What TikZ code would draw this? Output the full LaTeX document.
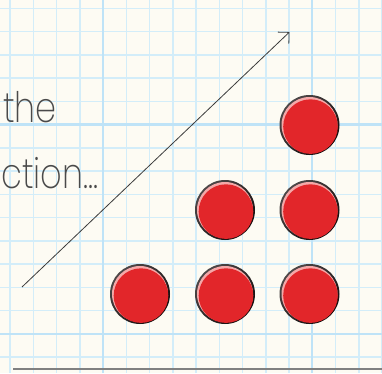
\documentclass[tikz,border=0pt]{standalone}
\usepackage{fontspec}
\newfontfamily\hand{Poppins ExtraLight}
\usetikzlibrary{arrows.meta}
\definecolor{paper}{HTML}{FDFBF3}
\definecolor{gridc}{HTML}{D3EDF9}
\definecolor{gridt}{HTML}{BFE3F7}
\definecolor{ink}{HTML}{4A4A4A}
\definecolor{ballred}{HTML}{E2262A}
\definecolor{ballhi}{HTML}{F4A8A8}
\definecolor{rimlight}{HTML}{4E4848}
\definecolor{rimdark}{HTML}{120A0A}
\definecolor{rule}{HTML}{808080}
\tikzset{
  gridline/.style={gridc, line width=1.5pt},
  gridthick/.style={gridt, line width=2.2pt},
  handtext/.style={font=\hand\fontsize{42}{42}\selectfont, text=ink, inner sep=0pt, xscale=0.8, transform shape},
  ball/.style={circle, minimum size=60pt, inner sep=0pt, top color=rimlight, bottom color=rimdark, shading angle=45,
    path picture={
      \fill[ballhi] (path picture bounding box.center) circle (28pt);
      \fill[ballred] ([shift={(1pt,-1.6pt)}]path picture bounding box.center) circle (27.3pt);
    }},
  trend/.style={draw=ink!80!black, line width=0.8pt, -{Straight Barb[length=8pt,width=16pt]}},
  baseline rule/.style={draw=rule, line width=1.8pt}
}
\begin{document}
\begin{tikzpicture}[x=1pt,y=1pt]
\useasboundingbox (0,0) rectangle (382,373);
\fill[paper] (0,0) rectangle (382,373);
\begin{scope}
  \clip (0,0) rectangle (382,373);
  \foreach \k in {0,...,16} {
    \draw[gridline] ({10+23.25*\k},0) -- ({10+23.25*\k},373);
  }
  \foreach \k in {0,...,16} {
    \draw[gridline] (0,{364.7-23.25*\k}) -- (382,{364.7-23.25*\k});
  }
  \foreach \k in {4,13} {
    \draw[gridthick] ({10+23.25*\k},0) -- ({10+23.25*\k},373);
  }
  \foreach \k in {5,14} {
    \draw[gridthick] (0,{364.7-23.25*\k}) -- (382,{364.7-23.25*\k});
  }
\end{scope}
\node[handtext, anchor=base west] (t1) at (3,251) {the};
\node[handtext, anchor=base west] (t2) at (1,185) {ction...};

\coordinate (a1) at (22,86);
\coordinate (a2) at (289.5,341);
\draw[trend] (a1) -- (a2);

\node[ball] (b1) at (309.5,248) {};
\node[ball] (b2) at (225,163) {};
\node[ball] (b3) at (309.5,163) {};
\node[ball] (b4) at (140,79) {};
\node[ball] (b5) at (225,79) {};
\node[ball] (b6) at (309.5,79) {};

\coordinate (r1) at (13,4);
\coordinate (r2) at (382,4);
\draw[baseline rule] (r1) -- (r2);
\end{tikzpicture}
\end{document}
